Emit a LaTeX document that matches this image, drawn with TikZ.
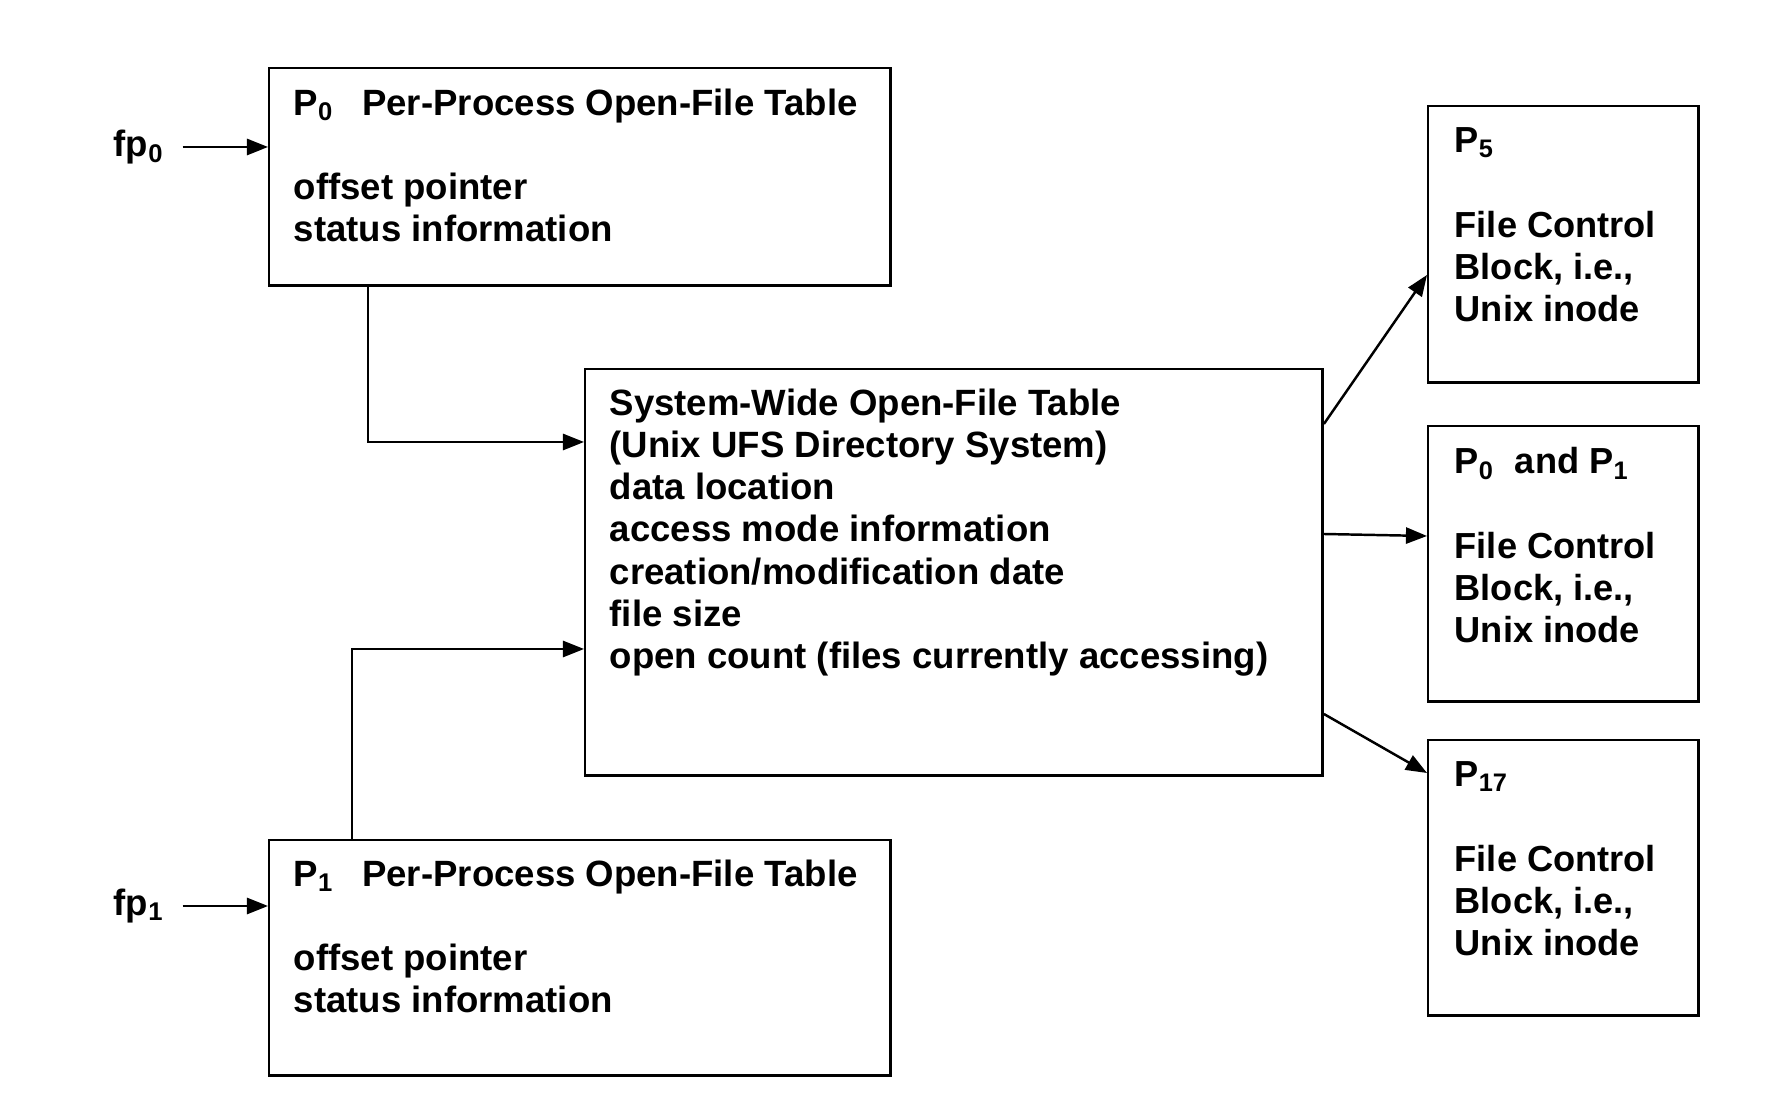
\documentclass[tikz,border=0pt]{standalone}
\usepackage{fontspec}
\setmainfont{Liberation Sans}
\usetikzlibrary{positioning,calc,arrows.meta}

\tikzset{
  tablebox/.style={draw, line width=0.7pt, inner sep=0pt, anchor=north west},
  tabletext/.style={inner sep=0pt, align=left, font=\bfseries\fontsize{10.4}{12}\selectfont},
  blocktext/.style={inner sep=0pt, align=left, font=\bfseries\fontsize{10.3}{12}\selectfont},
  link/.style={line width=0.7pt, -{Triangle[length=6pt,width=4.6pt]}}
}

\begin{document}
\begin{tikzpicture}[x=0.01cm, y=-0.01cm]
            \useasboundingbox (0,0) rectangle (1782,1104);
            % per-process tables
            \node [tablebox, minimum width=6.21cm, minimum height=2.17cm] (tabA) at (268,67) {};
            \node [tabletext, below right=0.21cm and 0.25cm of tabA.north west] (tabAtext) {P\textsubscript{0}\hspace{8pt}Per-Process Open-File Table\\[12pt]offset pointer\\status information};
            \node [tablebox, minimum width=6.21cm, minimum height=2.35cm] (tabB) at (268,839) {};
            \node [tabletext, below right=0.2cm and 0.25cm of tabB.north west] (tabBtext) {P\textsubscript{1}\hspace{8pt}Per-Process Open-File Table\\[12pt]offset pointer\\status information};
            \node [tabletext, anchor=east] (fpA) at (165,147) {fp\textsubscript{0}};
            \node [tabletext, anchor=east] (fpB) at (165,906) {fp\textsubscript{1}};
            % system-wide table
            \node [tablebox, minimum width=7.37cm, minimum height=4.06cm] (sys) at (584,368) {};
            \node [tabletext, below right=0.2cm and 0.25cm of sys.north west] (systext) {System-Wide Open-File Table\\(Unix UFS Directory System)\\data location\\access mode information\\creation/modification date\\file size\\open count (files currently accessing)};
            % file control blocks
            \node [tablebox, minimum width=2.7cm, minimum height=2.76cm] (fcbA) at (1427,105) {};
            \node [blocktext, below right=0.22cm and 0.27cm of fcbA.north west] (fcbAtext) {P\textsubscript{5}\\[12pt]File Control\\Block, i.e.,\\Unix inode};
            \node [tablebox, minimum width=2.7cm, minimum height=2.75cm] (fcbB) at (1427,425) {};
            \node [blocktext, below right=0.22cm and 0.27cm of fcbB.north west] (fcbBtext) {P\textsubscript{0}\ \ and P\textsubscript{1}\\[12pt]File Control\\Block, i.e.,\\Unix inode};
            \node [tablebox, minimum width=2.7cm, minimum height=2.75cm] (fcbC) at (1427,739) {};
            \node [blocktext, below right=0.22cm and 0.27cm of fcbC.north west] (fcbCtext) {P\textsubscript{17}\\[12pt]File Control\\Block, i.e.,\\Unix inode};
            % connectors
            \coordinate (bendA) at (368,442);
            \coordinate (bendB) at (352,649);
            \draw [link, shorten <=5pt] (fpA.east) -- (tabA.west |- fpA.east);
            \draw [link, shorten <=5pt] (fpB.east) -- (tabB.west |- fpB.east);
            \draw [link] (tabA.south -| bendA) |- (sys.west |- bendA);
            \draw [link] (tabB.north -| bendB) |- (sys.west |- bendB);
            \draw [link] ($(sys.north east)+(0,56)$) -- ($(fcbA.south west)!0.39!(fcbA.north west)$);
            \draw [link] ($(sys.north east)+(0,166)$) -- ($(fcbB.north west)+(0,111)$);
            \draw [link] ($(sys.north east)+(0,346)$) -- ($(fcbC.north west)+(0,34)$);
\end{tikzpicture}
\end{document}
